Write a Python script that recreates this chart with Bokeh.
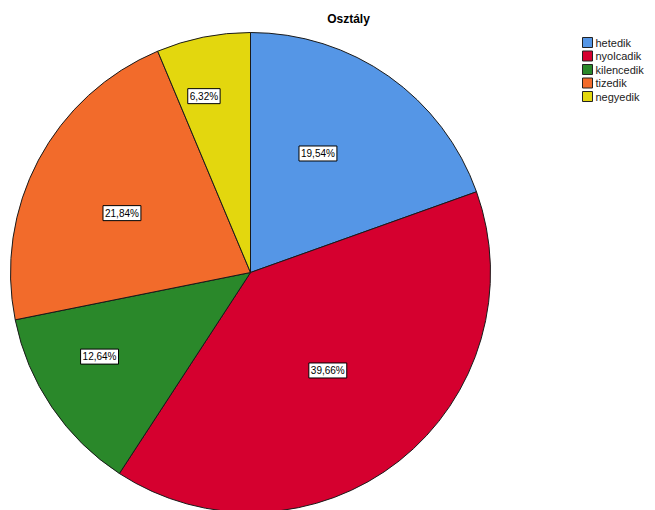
import math
from bokeh.plotting import figure
from bokeh.models import ColumnDataSource, Range1d
from bokeh.core.properties import value
from bokeh.embed import file_html
from bokeh.resources import INLINE

# ---- data ----
title = "Osztály"
categories = ["hetedik", "nyolcadik", "kilencedik", "tizedik", "negyedik"]
percents = [19.54, 39.66, 12.64, 21.84, 6.32]
colors = ["#5596e6", "#d5002f", "#2a882a", "#f26b2b", "#e3d70e"]

# ---- layout (label placement within each slice) ----
label_angle_frac = [0.42, 0.50, 0.61, 0.46, 0.35]
label_radius_frac = [0.57, 0.52, 0.72, 0.59, 0.76]

W, H = 655, 510
cx, cy, R = 250, 238, 240

total = sum(percents)
starts, ends, lx, ly, texts = [], [], [], [], []
cum = 0.0
for i, v in enumerate(percents):
    a0 = math.pi / 2 - 2 * math.pi * cum / total
    cum += v
    a1 = math.pi / 2 - 2 * math.pi * cum / total
    starts.append(a0)
    ends.append(a1)
    am = a0 + (a1 - a0) * label_angle_frac[i]
    r = R * label_radius_frac[i]
    lx.append(cx + r * math.cos(am))
    ly.append(cy + r * math.sin(am))
    texts.append(f"{v:.2f}".replace(".", ",") + "%")

src = ColumnDataSource(dict(cat=categories, start=starts, end=ends, color=colors,
                            lx=lx, ly=ly, txt=texts))

p = figure(width=W, height=H, output_backend="svg", toolbar_location=None,
           x_range=Range1d(0, W), y_range=Range1d(0, H), min_border=0)
p.axis.visible = False
p.grid.visible = False
p.outline_line_color = None
p.background_fill_color = "white"

p.wedge(x=cx, y=cy, radius=R, start_angle="start", end_angle="end",
        direction="clock", fill_color="color", line_color="#1a1a1a",
        line_width=1, source=src)

p.text(x="lx", y="ly", text="txt", source=src,
       text_align="center", text_baseline="middle",
       text_font=value("Liberation Sans"), text_font_size="10px",
       text_color="black",
       background_fill_color="white", border_line_color="black",
       border_line_width=1, padding=2)

# title
p.text(x=[348], y=[H - 18], text=[title], text_align="center",
       text_baseline="middle", text_font=value("Liberation Sans"),
       text_font_size="12px", text_font_style="bold", text_color="black")

# legend
leg_x0 = 582
leg_y0 = H - 42
step = 13.5
lsx = [leg_x0 + 5] * len(categories)
lsy = [leg_y0 - i * step for i in range(len(categories))]
ltx = [leg_x0 + 13] * len(categories)
lsrc = ColumnDataSource(dict(x=lsx, y=lsy, tx=ltx, cat=categories, color=colors))
p.rect(x="x", y="y", width=10, height=10, fill_color="color",
       line_color="#222222", line_width=1, source=lsrc)
p.text(x="tx", y="y", text="cat", text_align="left", text_baseline="middle",
       text_font=value("Liberation Sans"), text_font_size="11px",
       text_color="#222222", source=lsrc)

open("out.html", "w").write(file_html(p, INLINE))
